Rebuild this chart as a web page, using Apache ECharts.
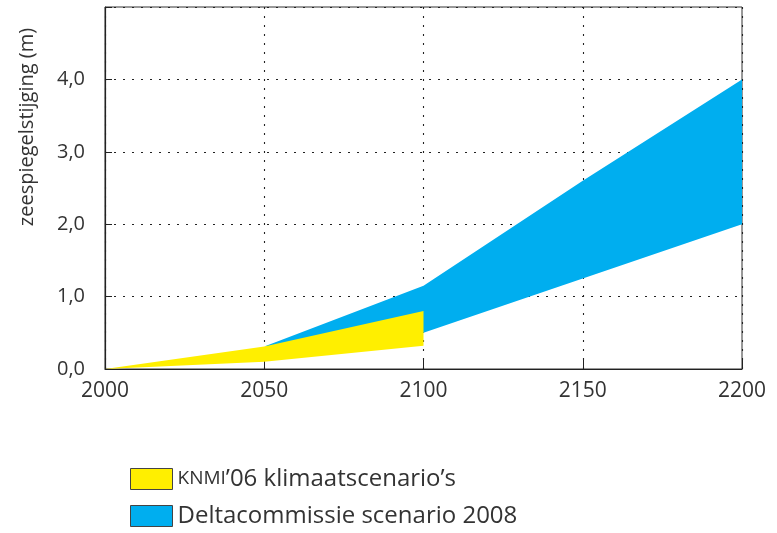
<!DOCTYPE html>
<html>
<head>
<meta charset="utf-8">
<script src="https://cdn.jsdelivr.net/npm/echarts@6/dist/echarts.min.js"></script>
<style>
html,body{margin:0;padding:0;background:#fff;}
#chart{width:777px;height:533px;}
</style>
</head>
<body>
<div id="chart"></div>
<script>
// x-axis tick values
const xTicks = [2000, 2050, 2100, 2150, 2200];
const yTicks = [0, 1, 2, 3, 4];
// KNMI'06 climate scenarios (band)
const knmiYears = [2000, 2050, 2100];
const knmiLow = [0.0, 0.1, 0.32];
const knmiHigh = [0.0, 0.31, 0.8];
// Deltacommissie scenario 2008 (band)
const deltaYears = [2050, 2100, 2150, 2200];
const deltaLow = [0.31, 0.5, 1.25, 2.0];
const deltaHigh = [0.31, 1.15, 2.6, 4.0];

const knmiName = 'KNMI’06 klimaatscenario’s';
const deltaName = 'Deltacommissie scenario 2008';
const YELLOW = '#FFEF00';
const BLUE = '#00AEEF';
const FONT = 'Open Sans';

// band polygon: upper edge left->right, lower edge right->left
function bandRenderer(xs, lo, hi, color) {
  return function (params, api) {
    const pts = [];
    for (let i = 0; i < xs.length; i++) pts.push(api.coord([xs[i], hi[i]]));
    for (let i = xs.length - 1; i >= 0; i--) pts.push(api.coord([xs[i], lo[i]]));
    return { type: 'polygon', shape: { points: pts }, style: { fill: color, stroke: null } };
  };
}

const chart = echarts.init(document.getElementById('chart'));
const dotted = { color: '#222', width: 1.1, type: [2, 7] };

chart.setOption({
  animation: false,
  textStyle: { fontFamily: FONT },
  grid: { left: 105, right: 35, top: 7, bottom: 164, show: true, borderColor: '#333', borderWidth: 1, backgroundColor: 'transparent' },
  xAxis: {
    type: 'value', min: xTicks[0], max: xTicks[xTicks.length - 1], interval: 50,
    axisLine: { lineStyle: { color: '#222', width: 1.2 } },
    axisTick: { inside: true, length: 9, lineStyle: { color: '#222' } },
    axisLabel: { color: '#333', fontSize: 21, margin: 12, fontFamily: FONT, formatter: v => String(v) },
    splitLine: { show: true, lineStyle: dotted }
  },
  yAxis: {
    type: 'value', min: 0, max: 5, interval: 1,
    axisLine: { show: true, lineStyle: { color: '#222', width: 1.2 } },
    axisTick: { show: true, inside: true, length: 7, lineStyle: { color: '#222' } },
    axisLabel: {
      color: '#333', fontSize: 20, margin: 20, fontFamily: FONT,
      formatter: v => (yTicks.indexOf(v) >= 0 ? v.toFixed(1).replace('.', ',') : '')
    },
    splitLine: { show: true, lineStyle: dotted }
  },
  legend: {
    show: true, orient: 'vertical', left: 130, top: 467, width: 600, height: 120, padding: 0,
    itemWidth: 42, itemHeight: 21, itemGap: 13,
    icon: 'rect',
    itemStyle: { borderColor: '#444', borderWidth: 1 },
    data: [knmiName, deltaName],
    formatter: n => n === knmiName ? '{sc|KNMI}’06 klimaatscenario’s' : n,
    textStyle: { color: '#333', fontSize: 24, fontFamily: FONT, rich: { sc: { fontSize: 19, color: '#333', fontFamily: FONT } } }
  },
  graphic: [{
    type: 'text', x: 27, y: 127, rotation: Math.PI / 2,
    style: { text: 'zeespiegelstijging (m)', font: '20px "Open Sans"', fill: '#333', align: 'center', verticalAlign: 'middle' }
  }],
  series: [
    { name: deltaName, type: 'custom', data: [[deltaYears[0], deltaLow[0]]], itemStyle: { color: BLUE }, silent: true, z: 2,
      renderItem: bandRenderer(deltaYears, deltaLow, deltaHigh, BLUE) },
    { name: knmiName, type: 'custom', data: [[knmiYears[0], knmiLow[0]]], itemStyle: { color: YELLOW }, silent: true, z: 3,
      renderItem: bandRenderer(knmiYears, knmiLow, knmiHigh, YELLOW) }
  ]
});
</script>
</body>
</html>
